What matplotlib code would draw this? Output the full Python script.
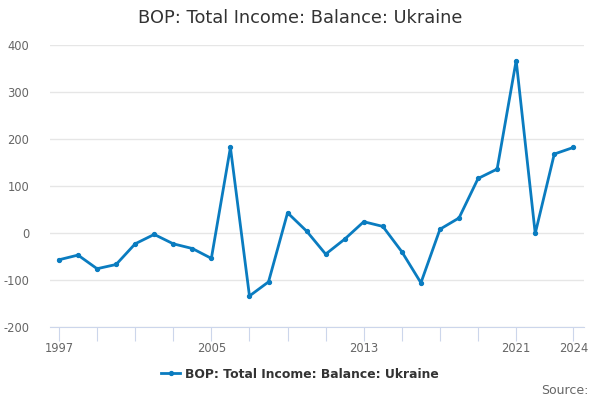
import matplotlib
matplotlib.use("Agg")
import matplotlib.pyplot as plt

# data
years = list(range(1997, 2025))
values = [-57, -47, -76, -67, -23, -3, -23, -33, -54, 182,
          -134, -104, 43, 4, -45, -13, 24, 14, -40, -106,
          8, 32, 116, 136, 367, -1, 168, 182]
tick_years = [1997, 1999, 2001, 2003, 2005, 2007, 2009, 2011, 2013,
              2015, 2017, 2019, 2021, 2024]
label_years = [1997, 2005, 2013, 2021, 2024]
series_name = "BOP: Total Income: Balance: Ukraine"

line_color = "#0a7cc0"
plt.rcParams["axes.unicode_minus"] = False

fig = plt.figure(figsize=(6, 4), dpi=100)
ax = fig.add_axes([50 / 600, 73 / 400, 534 / 600, 282 / 400])

ax.plot(years, values, color=line_color, lw=2, marker="o", ms=2.8,
        label=series_name)

ax.set_xlim(1996.53, 2024.56)
ax.set_ylim(-200, 400)
ax.set_yticks([-200, -100, 0, 100, 200, 300, 400])
ax.grid(axis="y", color="#e6e6e6", lw=1)
ax.set_axisbelow(True)

ax.set_xticks(tick_years)
ax.set_xticklabels([str(y) if y in label_years else "" for y in tick_years])

for s in ["top", "right", "left"]:
    ax.spines[s].set_visible(False)
ax.spines["bottom"].set_color("#ccd6eb")
ax.tick_params(axis="x", length=10, color="#ccd6eb", labelsize=8.3,
               labelcolor="#666666", pad=1)
ax.tick_params(axis="y", length=0, labelsize=8.3, labelcolor="#666666", pad=15)

fig.text(0.5, 1 - 18 / 400, "BOP: Total Income: Balance: Ukraine",
         ha="center", va="center", fontsize=12.8, color="#333333")

leg = fig.legend(loc="center", bbox_to_anchor=(0.5, 1 - 374 / 400),
                 frameon=False, handlelength=1.5, handletextpad=0.4,
                 prop={"size": 8.9, "weight": "bold"})
for t in leg.get_texts():
    t.set_color("#333333")

fig.text(589 / 600, 1 - 391 / 400, "Source:", ha="right", va="center",
         fontsize=9, color="#666666")

fig.savefig("out.png", dpi=100)
